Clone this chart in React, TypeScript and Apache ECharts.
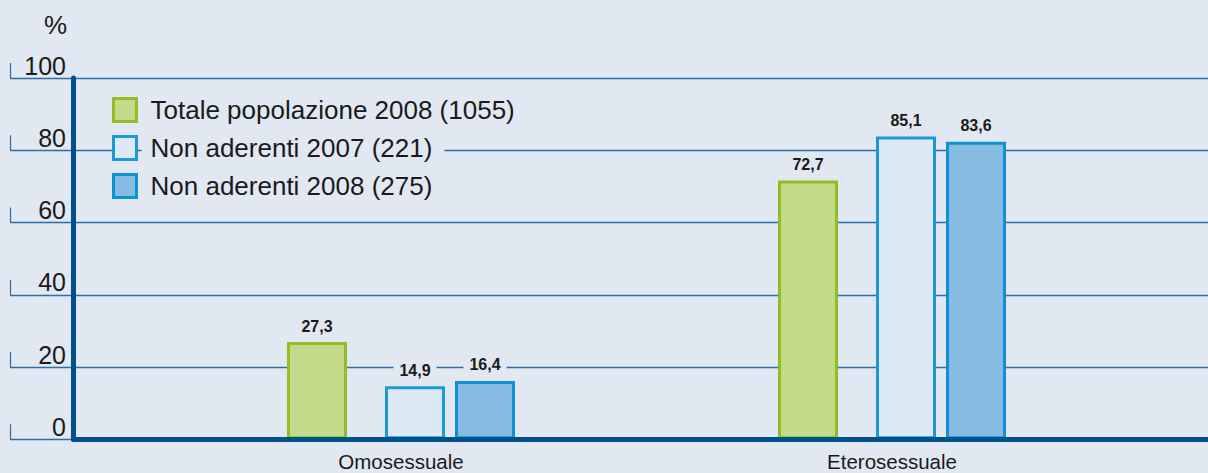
import React, { useEffect, useRef } from "react";
import * as echarts from "echarts";

const categories = ["Omosessuale", "Eterosessuale"];
const seriesNames = [
  "Totale popolazione 2008 (1055)",
  "Non aderenti 2007 (221)",
  "Non aderenti 2008 (275)",
];
const totale2008 = [27.3, 72.7];
const nonAderenti2007 = [14.9, 85.1];
const nonAderenti2008 = [16.4, 83.6];
const yTicks = [0, 20, 40, 60, 80, 100];

const BG = "#e1e8f2";
const GRID = "#2e6ca7";
const AXIS = "#00508c";
const TXT = "#1a1a1a";
const SANS = "'Liberation Sans', Arial, Helvetica, sans-serif";
const NARROW = "'Liberation Sans Narrow', 'Liberation Sans', Arial, sans-serif";

const styles = [
  { color: "#c5d98a", borderColor: "#90bf24" },
  { color: "#dce9f6", borderColor: "#1e98d6" },
  { color: "#86bce2", borderColor: "#0f92d3" },
];

export default function App() {
  const ref = useRef<HTMLDivElement>(null);
  useEffect(() => {
    if (!ref.current) return;
    const chart = echarts.init(ref.current, null, { renderer: "svg" });
    const top = 78;
    const bottom = 33.7;
    const label = {
      show: true,
      position: "top",
      distance: 7,
      fontFamily: NARROW,
      fontWeight: "bold",
      fontSize: 16,
      color: TXT,
      backgroundColor: BG,
      padding: [1, 6],
      formatter: (p: any) => Number(p.value).toFixed(1).replace(".", ","),
    };
    const barCommon = (i: number) => ({
      type: "bar",
      xAxisIndex: 2,
      yAxisIndex: 2,
      barWidth: 60,
      barGap: "16.67%",
      itemStyle: { ...styles[i], borderWidth: 3 },
      label,
      z: 2,
    });
    chart.setOption({
      animation: false,
      backgroundColor: BG,
      textStyle: { fontFamily: SANS },
      grid: [
        { left: 10, right: 0, top, bottom },
        { left: 73.5, right: 0, top, bottom },
        { left: 155.5, right: 70.5, top, bottom },
      ],
      xAxis: [
        { gridIndex: 0, type: "value", min: 0, max: 1, show: false },
        {
          gridIndex: 1,
          type: "value",
          min: 0,
          max: 1,
          z: 6,
          axisLine: { show: true, onZero: false, lineStyle: { color: AXIS, width: 5 } },
          axisTick: { show: false },
          axisLabel: { show: false },
          splitLine: { show: false },
        },
        {
          gridIndex: 2,
          type: "category",
          data: categories,
          axisLine: { show: false },
          axisTick: { show: false },
          axisLabel: { fontSize: 20.5, color: TXT, margin: 12, fontFamily: SANS },
          splitLine: { show: false },
        },
      ],
      yAxis: [
        {
          gridIndex: 0,
          type: "value",
          min: 0,
          max: 100,
          interval: 20,
          axisLine: { show: false },
          axisTick: { show: false },
          splitLine: { show: true, lineStyle: { color: GRID, width: 1.3 } },
          axisLabel: {
            inside: true,
            align: "right",
            verticalAlign: "bottom",
            margin: 56,
            fontSize: 25,
            color: TXT,
            fontFamily: SANS,
          },
        },
        {
          gridIndex: 1,
          type: "value",
          min: 0,
          max: 100,
          z: 6,
          axisLine: { show: true, onZero: false, lineStyle: { color: AXIS, width: 5 } },
          axisTick: { show: false },
          axisLabel: { show: false },
          splitLine: { show: false },
        },
        { gridIndex: 2, type: "value", min: 0, max: 101.5, show: false },
      ],
      graphic: [
        {
          type: "text",
          left: 44,
          top: 12,
          style: { text: "%", fontSize: 26, fill: TXT, fontFamily: SANS },
        },
      ],
      legend: {
        orient: "vertical",
        left: 112,
        top: 96,
        padding: 0,
        itemWidth: 23,
        itemHeight: 23,
        itemGap: 10,
        icon: "rect",
        selectedMode: false,
        textStyle: {
          fontSize: 26,
          color: TXT,
          fontFamily: SANS,
          backgroundColor: BG,
          lineHeight: 28,
          padding: [0, 12, 0, 9],
        },
        data: seriesNames.map((n, i) => ({
          name: n,
          itemStyle: { ...styles[i], borderWidth: 3 },
        })),
      },
      series: [
        {
          type: "custom",
          xAxisIndex: 0,
          yAxisIndex: 0,
          silent: true,
          clip: false,
          z: 1,
          data: yTicks.map((v) => [0, v]),
          renderItem: (params: any, api: any) => {
            const p = api.coord([0, api.value(1)]);
            return {
              type: "line",
              shape: { x1: p[0] + 0.5, y1: p[1], x2: p[0] + 0.5, y2: p[1] - 15 },
              style: { stroke: GRID, lineWidth: 1.2 },
            };
          },
        },
        { ...barCommon(0), name: seriesNames[0], data: totale2008 },
        {
          type: "bar",
          name: "spacer",
          xAxisIndex: 2,
          yAxisIndex: 2,
          barWidth: 24,
          barGap: "16.67%",
          data: ["-", "-"],
          silent: true,
          itemStyle: { color: "transparent" },
        },
        { ...barCommon(1), name: seriesNames[1], data: nonAderenti2007 },
        { ...barCommon(2), name: seriesNames[2], data: nonAderenti2008 },
      ],
    });
    return () => chart.dispose();
  }, []);
  return (
    <div
      ref={ref}
      style={{ position: "fixed", left: 0, top: 0, width: 1208, height: 473 }}
    />
  );
}
